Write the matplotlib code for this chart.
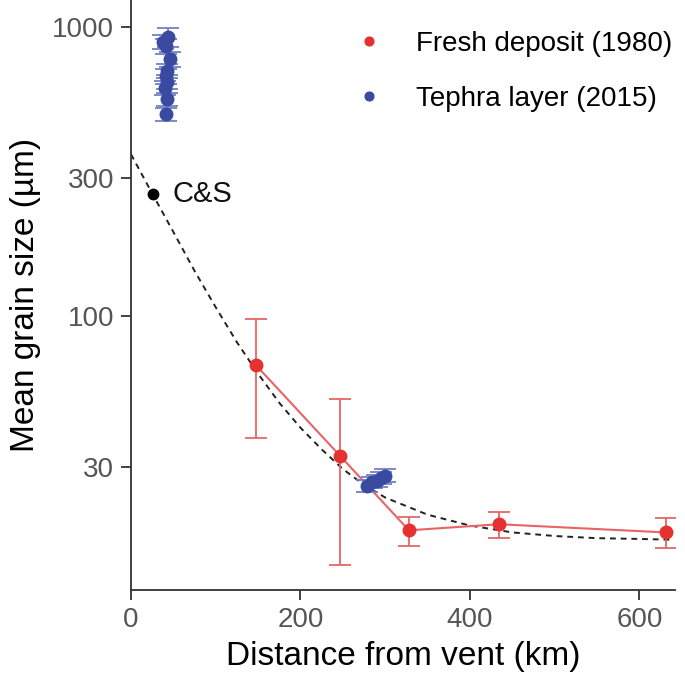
import matplotlib
matplotlib.use('Agg')
import matplotlib.pyplot as plt

plt.rcParams['font.family'] = ['Liberation Sans', 'DejaVu Sans']

# Fresh deposit (1980)
fresh_dist = [147, 247, 328, 434, 631]
fresh_size = [67.7, 32.7, 18.1, 19.0, 17.8]
fresh_err = [30, 19, 2.1, 2.0, 2.1]

# Tephra layer (2015) - proximal cluster and distal cluster
tephra_dist = [44, 38, 41, 46, 43, 41, 42, 40, 43, 41, 279, 285, 290, 295, 300]
tephra_size = [921, 885, 857, 773, 703, 675, 644, 614, 562, 499, 25.8, 26.5, 26.8, 27.4, 28.0]
tephra_err = [70, 50, 50, 45, 40, 40, 35, 35, 30, 26, 1.2, 1.2, 1.3, 1.3, 1.4]

# C&S point
cs_dist = [26]
cs_size = [263]

# dashed trend curve
fit_dist = [0, 25, 50, 75, 100, 125, 150, 175, 200, 225, 250, 275, 300, 350, 400, 450, 500, 550, 600, 636]
fit_size = [362, 265, 195, 143, 107, 81, 63, 50, 41, 34.5, 29.5, 26, 23.5, 20.5, 18.8, 17.8, 17.3, 17.0, 16.9, 16.8]

red = '#e5312f'
red_light = '#e86464'
blue = '#3a4aa0'
blue_light = '#7280c4'

fig = plt.figure(figsize=(6.85, 6.75), dpi=100)
ax = fig.add_axes([0.1912, 0.1259, 0.7942, 0.8741])

ax.plot(fit_dist, fit_size, linestyle=(0, (3, 2.5)), color='#222222', lw=1.4, zorder=2)

ax.errorbar(fresh_dist, fresh_size, yerr=fresh_err, fmt='none', ecolor=red_light,
            elinewidth=1.3, capsize=8, capthick=1.3, zorder=3)
ax.plot(fresh_dist, fresh_size, color=red_light, lw=1.5, zorder=3)
ax.plot(fresh_dist, fresh_size, 'o', color=red, ms=9, zorder=4, label='Fresh deposit (1980)')

ax.errorbar(tephra_dist, tephra_size, yerr=tephra_err, fmt='none', ecolor=blue_light,
            elinewidth=1.3, capsize=8, capthick=1.3, zorder=5)
ax.plot(tephra_dist, tephra_size, 'o', color=blue, ms=9, zorder=6, label='Tephra layer (2015)')

ax.plot(cs_dist, cs_size, 'o', color='black', ms=7.5, zorder=6)
ax.annotate('C&S', (cs_dist[0], cs_size[0]), xytext=(14, 0), textcoords='offset points',
            fontsize=21, va='center', ha='left', color='#111111')

ax.set_yscale('log')
ax.set_ylim(11.25, 1237)
ax.set_xlim(0, 642)
ax.set_yticks([30, 100, 300, 1000])
ax.set_yticklabels(['30', '100', '300', '1000'])
ax.minorticks_off()
ax.set_xticks([0, 200, 400, 600])

for side in ['top', 'right']:
    ax.spines[side].set_visible(False)
for side in ['left', 'bottom']:
    ax.spines[side].set_color('#333333')
    ax.spines[side].set_linewidth(1.3)

ax.tick_params(axis='both', labelsize=20, labelcolor='#555555', color='#333333',
               length=7, width=1.3, pad=5)

ax.set_xlabel('Distance from vent (km)', fontsize=24, labelpad=6)
ax.set_ylabel('Mean grain size (µm)', fontsize=24, labelpad=8)

leg = ax.legend(loc='upper right', bbox_to_anchor=(1.031, 0.981), frameon=False, fontsize=20,
                markerscale=0.7, handlelength=1.2, handletextpad=1.1, labelspacing=1.04,
                borderaxespad=0.3)

fig.savefig('out.png', dpi=100)
